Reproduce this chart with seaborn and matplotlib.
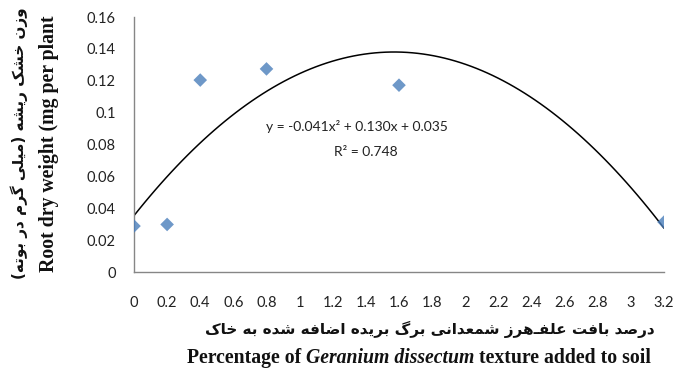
import numpy as np
import pandas as pd
import matplotlib
matplotlib.use("Agg")
import matplotlib.pyplot as plt
import seaborn as sns

# ---- data ----
x_values = [0.0, 0.2, 0.4, 0.8, 1.6, 3.2]
y_values = [0.029, 0.030, 0.1205, 0.1275, 0.1173, 0.0315]
x_ticks = [0, 0.2, 0.4, 0.6, 0.8, 1, 1.2, 1.4, 1.6, 1.8, 2, 2.2, 2.4, 2.6, 2.8, 3, 3.2]
y_ticks = [0, 0.02, 0.04, 0.06, 0.08, 0.1, 0.12, 0.14, 0.16]
equation_text = "y = -0.041x\u00b2 + 0.130x + 0.035"
r2_text = "R\u00b2 = 0.748"
ylabel_fa = "وزن خشک ریشه (میلی گرم در بوته)"
ylabel_en = "Root dry weight (mg per plant"
xlabel_fa = "درصد بافت علفـ\u200cهرز شمعدانی برگ بریده اضافه شده به خاک"
xlabel_en_parts = [("Percentage of ", "normal"), ("Geranium dissectum", "italic"),
                   (" texture added to soil", "normal")]

# ---- minimal Persian shaping (presentation forms, visual order) ----
F = {
    'ا': ('\uFE8D', '\uFE8E', None, None),
    'ب': ('\uFE8F', '\uFE90', '\uFE91', '\uFE92'),
    'ت': ('\uFE95', '\uFE96', '\uFE97', '\uFE98'),
    'خ': ('\uFEA5', '\uFEA6', '\uFEA7', '\uFEA8'),
    'د': ('\uFEA9', '\uFEAA', None, None),
    'ر': ('\uFEAD', '\uFEAE', None, None),
    'ز': ('\uFEAF', '\uFEB0', None, None),
    'ش': ('\uFEB5', '\uFEB6', '\uFEB7', '\uFEB8'),
    'ص': ('\uFEB9', '\uFEBA', '\uFEBB', '\uFEBC'),
    'ض': ('\uFEBD', '\uFEBE', '\uFEBF', '\uFEC0'),
    'ع': ('\uFEC9', '\uFECA', '\uFECB', '\uFECC'),
    'ف': ('\uFED1', '\uFED2', '\uFED3', '\uFED4'),
    'ل': ('\uFEDD', '\uFEDE', '\uFEDF', '\uFEE0'),
    'م': ('\uFEE1', '\uFEE2', '\uFEE3', '\uFEE4'),
    'ن': ('\uFEE5', '\uFEE6', '\uFEE7', '\uFEE8'),
    'ه': ('\uFEE9', '\uFEEA', '\uFEEB', '\uFEEC'),
    'و': ('\uFEED', '\uFEEE', None, None),
    'ی': ('\uFBFC', '\uFBFD', '\uFBFE', '\uFBFF'),
    'ک': ('\uFB8E', '\uFB8F', '\uFB90', '\uFB91'),
    'گ': ('\uFB92', '\uFB93', '\uFB94', '\uFB95'),
    'ـ': ('\u0640', '\u0640', '\u0640', '\u0640'),
}


def shape(s):
    out = []
    n = len(s)
    for i, c in enumerate(s):
        if c not in F:
            out.append(c)
            continue
        iso, fin, ini, med = F[c]
        prev = s[i - 1] if i > 0 else ''
        nxt = s[i + 1] if i < n - 1 else ''
        jp = prev in F and F[prev][2] is not None
        jn = ini is not None and nxt in F
        if jp and jn:
            out.append(med)
        elif jp:
            out.append(fin)
        elif jn:
            out.append(ini)
        else:
            out.append(iso)
    vis = ''.join(out).replace('\u200c', '')[::-1]
    return vis.translate(str.maketrans('()', ')('))


sns.set_theme(style="white")
plt.rcParams['font.family'] = ['Lato', 'DejaVu Sans']

df = pd.DataFrame({"x": x_values, "y": y_values})

fig = plt.figure(figsize=(6.75, 3.71), dpi=100)
ax = fig.add_axes([0.1985, 0.266, 0.9837 - 0.1985, 0.954 - 0.266])

sns.regplot(data=df, x="x", y="y", order=2, ci=None, ax=ax, marker="D",
            scatter_kws=dict(s=48, color="#4A7EBB", edgecolor="none", zorder=3),
            line_kws=dict(color="black", lw=1.1, zorder=2))

ax.set_xlim(0, 3.2)
ax.set_ylim(0, 0.16)
ax.set_xticks(x_ticks)
ax.set_xticklabels([f"{t:g}" for t in x_ticks])
ax.set_yticks(y_ticks)
ax.set_yticklabels([f"{t:g}" for t in y_ticks])

for side in ("top", "right"):
    ax.spines[side].set_visible(False)
for side in ("left", "bottom"):
    ax.spines[side].set_color("#868686")
    ax.spines[side].set_linewidth(1.0)

ax.tick_params(axis="both", which="major", direction="out", length=5, width=1,
               color="#868686", labelsize=10.5, labelcolor="#222222")
ax.tick_params(axis="x", pad=12)
ax.tick_params(axis="y", pad=8)
ax.set_xlabel("")
ax.set_ylabel("")

ax.text(1.345, 0.0913, equation_text, ha="center", va="center", fontsize=10, color="#222222")
ax.text(1.40, 0.0752, r2_text, ha="center", va="center", fontsize=10, color="#222222")

fig.text(0.029, 0.615, shape(ylabel_fa), rotation=90, ha="center", va="center",
         fontsize=11, fontweight="bold", family=["DejaVu Sans"], color="#111111")
fig.text(0.0726, 0.613, ylabel_en, rotation=90, ha="center", va="center",
         fontsize=14.2, fontweight="bold", family=["Liberation Serif"], color="#111111")
fig.text(0.637, 0.111, shape(xlabel_fa), ha="center", va="center",
         fontsize=11, fontweight="bold", family=["DejaVu Sans"], color="#111111")

# English x label assembled from styled pieces, centered at x=419 px
renderer = fig.canvas.get_renderer()
pieces = []
for txt, style in xlabel_en_parts:
    t = fig.text(0, 0.035, txt, ha="left", va="center", fontsize=14.2, fontweight="bold",
                 fontstyle=style, family=["Liberation Serif"], color="#111111")
    pieces.append(t)
widths = [p.get_window_extent(renderer).width for p in pieces]
total = sum(widths)
cur = 419 - total / 2
for p, w in zip(pieces, widths):
    p.set_x(cur / fig.bbox.width)
    cur += w

fig.savefig("out.png", dpi=100, facecolor="white")
